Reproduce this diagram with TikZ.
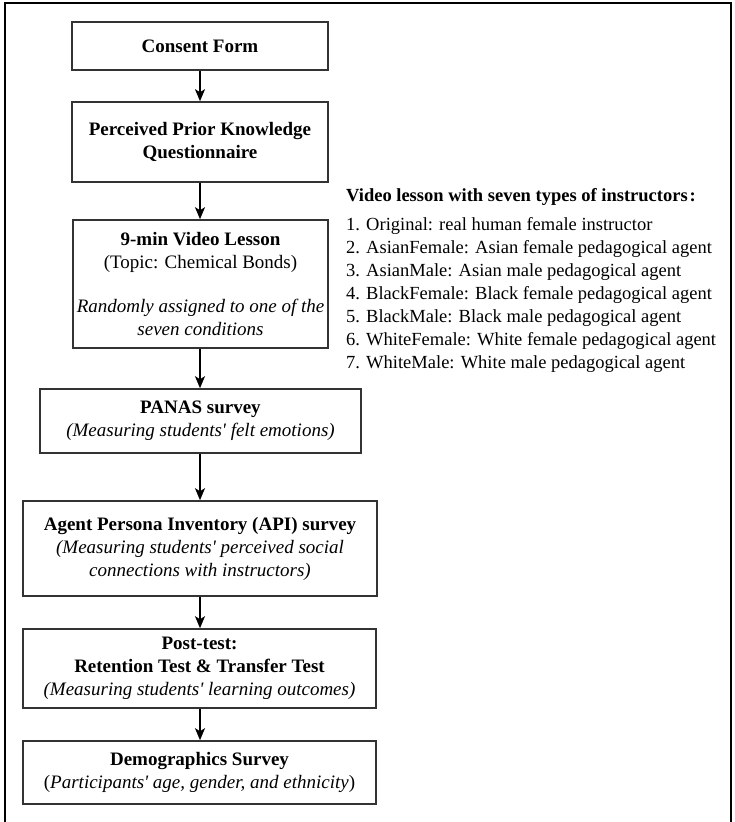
\documentclass[tikz,border=0pt]{standalone}
\usepackage{fontspec}
\setmainfont{Liberation Serif}
\usetikzlibrary{arrows.meta}
\newcommand{\sq}{\textquotesingle}
\begin{document}
\begin{tikzpicture}[x=1pt,y=-1pt,
  flowbox/.style={draw=black!80, line width=1.6pt, rectangle, inner sep=0pt, align=center,
    font=\fontsize{19}{23}\selectfont},
  flowarrow/.style={draw=black, line width=1.5pt, -{Stealth[length=12pt,width=10pt,inset=3pt]}},
  listline/.style={anchor=base west, inner sep=0pt, font=\fontsize{18.5}{22}\selectfont}]
\useasboundingbox (0,0) rectangle (734,822);
% outer frame (bottom edge cut off)
\draw[line width=1.4pt] (5,822) -- (5,3) -- (731,3) -- (731,822);

\node[flowbox, minimum width=256pt, minimum height=48pt] (consent) at (200,46)
  {\textbf{Consent Form}};
\node[flowbox, minimum width=256pt, minimum height=80pt] (ppk) at (200,142)
  {\textbf{Perceived Prior Knowledge}\\\textbf{Questionnaire}};
\node[flowbox, minimum width=255pt, minimum height=128pt] (video) at (200.5,284)
  {\textbf{9-min Video Lesson}\\(Topic: Chemical Bonds)\\[21pt]\textit{Randomly assigned to one of the}\\\textit{seven conditions}};
\node[flowbox, minimum width=321pt, minimum height=64pt] (panas) at (200.5,421)
  {\textbf{PANAS survey}\\\textit{(Measuring students\sq{} felt emotions)}};
\node[flowbox, minimum width=354pt, minimum height=95pt] (api) at (200,548.5)
  {\textbf{Agent Persona Inventory (API) survey}\\\textit{(Measuring students\sq{} perceived social}\\\textit{connections with instructors)}};
\node[flowbox, minimum width=353pt, minimum height=79pt] (post) at (199.5,668.5)
  {\textbf{Post-test:}\\\textbf{Retention Test \& Transfer Test}\\\textit{(Measuring students\sq{} learning outcomes)}};
\node[flowbox, minimum width=353pt, minimum height=63pt] (demo) at (199.5,772.5)
  {\textbf{Demographics Survey}\\(\textit{Participants\sq{} age, gender, and ethnicity})};

\draw[flowarrow] (consent.south -| 200,0) -- (ppk.north -| 200,0);
\draw[flowarrow] (ppk.south -| 200,0) -- (video.north -| 200,0);
\draw[flowarrow] (video.south -| 200,0) -- (panas.north -| 200,0);
\draw[flowarrow] (panas.south -| 200,0) -- (api.north -| 200,0);
\draw[flowarrow] (api.south -| 200,0) -- (post.north -| 200,0);
\draw[flowarrow] (post.south -| 200,0) -- (demo.north -| 200,0);

\node[listline] (lhead) at (346,201) {\textbf{Video lesson with seven types of instructors\hspace{2pt}:}};
\node[listline] (l1) at (346,230.5) {1. Original: real human female instructor};
\node[listline] (l2) at (346,253.5) {2. AsianFemale: Asian female pedagogical agent};
\node[listline] (l3) at (346,276.5) {3. AsianMale: Asian male pedagogical agent};
\node[listline] (l4) at (346,299.5) {4. BlackFemale: Black female pedagogical agent};
\node[listline] (l5) at (346,322.5) {5. BlackMale: Black male pedagogical agent};
\node[listline] (l6) at (346,345.5) {6. WhiteFemale: White female pedagogical agent};
\node[listline] (l7) at (346,368.5) {7. WhiteMale: White male pedagogical agent};
\end{tikzpicture}
\end{document}
